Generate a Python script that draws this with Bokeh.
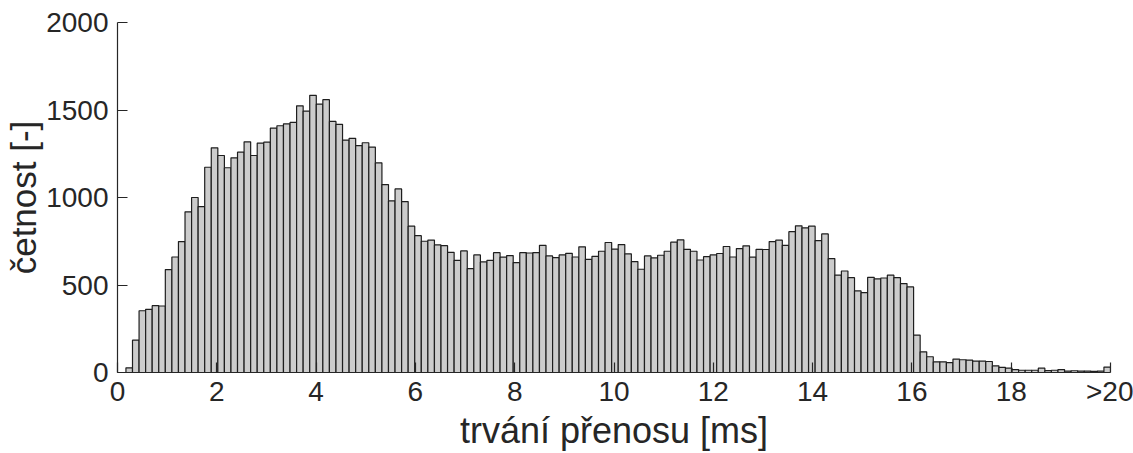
from bokeh.plotting import figure
from bokeh.models import Range1d, FixedTicker, ColumnDataSource
from bokeh.embed import file_html
from bokeh.resources import INLINE
import numpy as np

# histogram counts (150 bins spanning bin_lo .. bin_hi, last bin = ">20" overflow)
counts = [
    27, 185, 353, 361, 382, 380, 588, 660, 748, 918,
    1000, 948, 1173, 1284, 1240, 1170, 1227, 1259, 1318, 1240,
    1311, 1316, 1397, 1410, 1421, 1429, 1524, 1494, 1584, 1534,
    1559, 1435, 1418, 1328, 1338, 1297, 1313, 1288, 1198, 1074,
    981, 1049, 977, 836, 782, 750, 757, 729, 725, 687,
    641, 695, 594, 672, 632, 641, 685, 659, 668, 628,
    685, 683, 685, 727, 666, 657, 672, 681, 660, 718,
    647, 664, 693, 743, 705, 731, 678, 634, 590, 666,
    655, 670, 693, 745, 758, 704, 693, 643, 662, 672,
    680, 720, 660, 708, 724, 659, 704, 703, 748, 756,
    727, 805, 838, 827, 836, 754, 792, 651, 557, 580,
    542, 466, 456, 544, 535, 540, 556, 542, 508, 489,
    214, 118, 90, 61, 61, 57, 77, 73, 71, 65,
    65, 63, 38, 29, 25, 17, 13, 13, 13, 25,
    11, 13, 17, 8, 10, 8, 8, 6, 8, 31,
]
bin_lo = 0.17
bin_hi = 20.0
x_ticks = [0, 2, 4, 6, 8, 10, 12, 14, 16, 18, 20]
x_tick_labels = ["0", "2", "4", "6", "8", "10", "12", "14", "16", "18", ">20"]
y_ticks = [0, 500, 1000, 1500, 2000]
x_label = "trvání přenosu [ms]"
y_label = "četnost [-]"

edges = np.linspace(bin_lo, bin_hi, len(counts) + 1)
src = ColumnDataSource(dict(left=edges[:-1], right=edges[1:], top=counts,
                            bottom=[0] * len(counts)))

FONT = "Liberation Sans"
AX = "#262626"

p = figure(width=1133, height=453, x_range=Range1d(0, 20), y_range=Range1d(0, 2000),
           output_backend="svg", toolbar_location=None,
           min_border_left=117, min_border_right=23, min_border_top=22, min_border_bottom=81)
p.outline_line_color = None
p.background_fill_color = "white"
p.border_fill_color = "white"
p.xgrid.visible = False
p.ygrid.visible = False

p.quad(left="left", right="right", top="top", bottom="bottom", source=src,
       fill_color="#cccccc", line_color="#1e1e1e", line_width=1.2)

for ax in (p.xaxis[0], p.yaxis[0]):
    ax.axis_line_color = AX
    ax.axis_line_width = 1.2
    ax.major_tick_line_color = AX
    ax.major_tick_line_width = 1.2
    ax.major_tick_in = 10
    ax.major_tick_out = 0
    ax.minor_tick_line_color = None
    ax.major_label_text_font = FONT
    ax.major_label_text_font_size = "28px"
    ax.major_label_text_color = AX
    ax.axis_label_text_font = FONT
    ax.axis_label_text_color = AX
    ax.axis_label_text_font_style = "normal"

p.xaxis.axis_label_text_font_size = "36px"
p.yaxis.axis_label_text_font_size = "35px"
p.xaxis.ticker = FixedTicker(ticks=x_ticks)
p.xaxis.major_label_overrides = {t: l for t, l in zip(x_ticks, x_tick_labels)}
p.yaxis.ticker = FixedTicker(ticks=y_ticks)
p.xaxis.axis_label = x_label
p.yaxis.axis_label = y_label
p.xaxis.major_label_standoff = 3
p.yaxis.major_label_standoff = 9
p.xaxis.axis_label_standoff = 0
p.yaxis.axis_label_standoff = 0

open("out.html", "w").write(file_html(p, INLINE))
